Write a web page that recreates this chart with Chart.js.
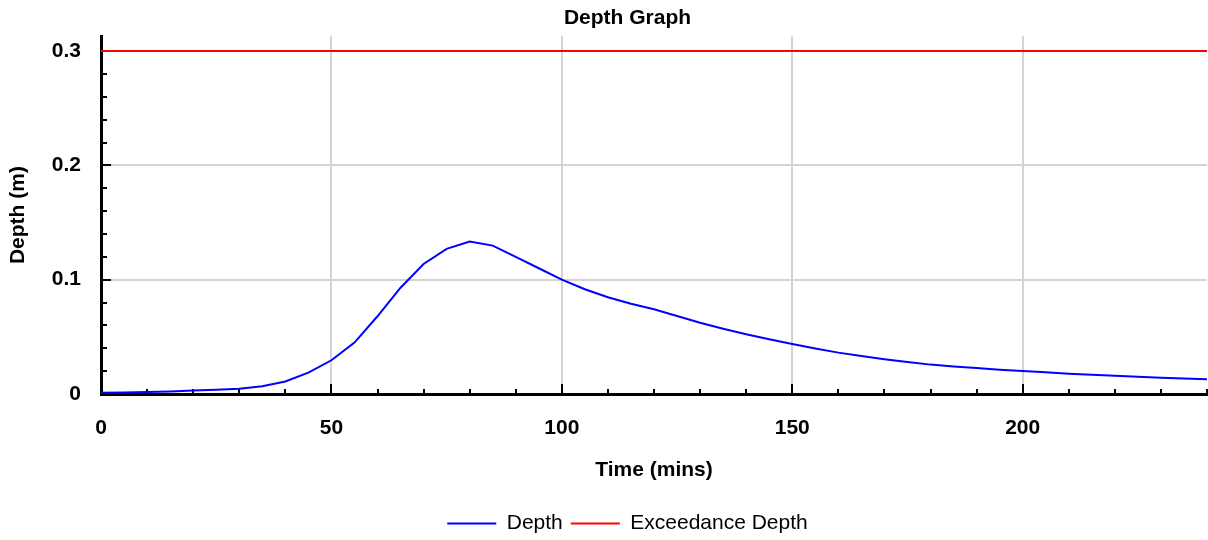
<!DOCTYPE html>
<html>
<head>
<meta charset="utf-8">
<title>Depth Graph</title>
<script src="https://cdn.jsdelivr.net/npm/chart.js@4.4.1/dist/chart.umd.min.js"></script>
<style>
  html, body { margin: 0; padding: 0; background: #fff; }
  #wrap { width: 1208px; height: 540px; position: relative; }
</style>
</head>
<body>
<div id="wrap"><canvas id="chart"></canvas></div>
<script>
// Time axis (minutes) and the modelled water depth (m) at each step
const times = [0, 5, 10, 15, 20, 25, 30, 35, 40, 45, 50, 55, 60, 65, 70, 75, 80, 85, 90, 95,
  100, 105, 110, 115, 120, 125, 130, 135, 140, 145, 150, 155, 160, 165, 170, 175, 180, 185, 190, 195,
  200, 205, 210, 215, 220, 225, 230, 235, 240];
const depth = [0.0010, 0.0013, 0.0017, 0.0022, 0.0030, 0.0038, 0.0046, 0.0067, 0.0110, 0.0187,
  0.0295, 0.0450, 0.0680, 0.0930, 0.1137, 0.1270, 0.1333, 0.1298, 0.1200, 0.1100,
  0.1000, 0.0916, 0.0846, 0.0790, 0.0741, 0.0682, 0.0624, 0.0571, 0.0522, 0.0479,
  0.0437, 0.0398, 0.0362, 0.0332, 0.0304, 0.0280, 0.0257, 0.0241, 0.0227, 0.0213,
  0.0201, 0.0190, 0.0178, 0.0169, 0.0160, 0.0151, 0.0143, 0.0135, 0.0128];

// Exceedance threshold, held constant over the whole run
const exceedanceTimes = [0, 240];
const exceedanceDepth = [0.3, 0.3];

// Labelled ticks and the spacing of the unlabelled minor ticks
const xTickValues = [0, 50, 100, 150, 200];
const yTickValues = [0, 0.1, 0.2, 0.3];
const xMinorStep = 10;
const yMinorStep = 0.02;
const xRange = [0, 240];
const yRange = [0, 0.313];

const FONT = '"Liberation Sans", Arial, Helvetica, sans-serif';
Chart.defaults.color = '#000';
Chart.defaults.font.family = FONT;

const toPoints = (xs, ys) => xs.map((t, i) => ({ x: t, y: ys[i] }));

// Inward-pointing major and minor tick marks on both axes
const axisTicks = {
  id: 'axisTicks',
  beforeDatasetsDraw(chart) {
    const { ctx, chartArea, scales: { x, y } } = chart;
    ctx.save();
    ctx.strokeStyle = '#000';
    ctx.lineWidth = 2;
    ctx.beginPath();
    const nx = Math.round((xRange[1] - xRange[0]) / xMinorStep);
    for (let i = 0; i <= nx; i++) {
      const v = xRange[0] + i * xMinorStep;
      const major = xTickValues.includes(v);
      const px = Math.round(x.getPixelForValue(v));
      ctx.moveTo(px, chartArea.bottom);
      ctx.lineTo(px, chartArea.bottom - (major ? 10 : 5));
    }
    const ny = Math.floor((yRange[1] - yRange[0]) / yMinorStep + 1e-9);
    for (let i = 0; i <= ny; i++) {
      const v = +(yRange[0] + i * yMinorStep).toFixed(4);
      const major = yTickValues.some(t => Math.abs(t - v) < 1e-9);
      const py = Math.round(y.getPixelForValue(v));
      ctx.moveTo(chartArea.left, py);
      ctx.lineTo(chartArea.left + (major ? 10 : 6), py);
    }
    ctx.stroke();
    ctx.restore();
  }
};

new Chart(document.getElementById('chart'), {
  type: 'line',
  data: {
    datasets: [
      {
        label: 'Depth',
        data: toPoints(times, depth),
        borderColor: '#0000ff',
        backgroundColor: '#0000ff',
        borderWidth: 2,
        pointRadius: 0,
        tension: 0,
        fill: false
      },
      {
        label: 'Exceedance Depth',
        data: toPoints(exceedanceTimes, exceedanceDepth),
        borderColor: '#ff0000',
        backgroundColor: '#ff0000',
        borderWidth: 2,
        pointRadius: 0,
        tension: 0,
        fill: false
      }
    ]
  },
  options: {
    responsive: true,
    maintainAspectRatio: false,
    animation: false,
    layout: { padding: { left: 48, right: 1, top: 0, bottom: -4 } },
    plugins: {
      title: {
        display: true,
        text: 'Depth Graph',
        color: '#000',
        font: { size: 21, weight: 'bold', family: FONT },
        padding: { top: 6, bottom: 5 }
      },
      legend: {
        position: 'bottom',
        labels: {
          usePointStyle: true,
          pointStyle: 'line',
          pointStyleWidth: 49,
          padding: 8,
          color: '#000',
          font: { size: 21, family: FONT }
        }
      },
      tooltip: { enabled: false }
    },
    scales: {
      x: {
        type: 'linear',
        min: xRange[0],
        max: xRange[1],
        afterBuildTicks: s => { s.ticks = xTickValues.map(v => ({ value: v })); },
        afterFit: s => { s.height = 111; },
        ticks: {
          padding: 22,
          maxRotation: 0,
          color: '#000',
          font: { size: 21, weight: 'bold', family: FONT },
          callback: v => String(v)
        },
        grid: {
          drawTicks: false,
          color: ctx => (ctx.tick && ctx.tick.value === 0 ? 'rgba(0,0,0,0)' : '#d3d3d3'),
          lineWidth: 2
        },
        border: { display: true, color: '#000', width: 3 },
        title: {
          display: true,
          text: 'Time (mins)',
          color: '#000',
          font: { size: 21, weight: 'bold', family: FONT },
          padding: { top: 0, bottom: 22 }
        }
      },
      y: {
        type: 'linear',
        min: yRange[0],
        max: yRange[1],
        afterBuildTicks: s => { s.ticks = yTickValues.map(v => ({ value: v })); },
        afterFit: s => { s.width = 53; },
        ticks: {
          padding: 20,
          color: '#000',
          font: { size: 21, weight: 'bold', family: FONT },
          callback: v => String(v)
        },
        grid: {
          drawTicks: false,
          color: ctx => (ctx.tick && ctx.tick.value === 0 ? 'rgba(0,0,0,0)' : '#d3d3d3'),
          lineWidth: 2
        },
        border: { display: true, color: '#000', width: 3 },
        title: {
          display: true,
          text: 'Depth (m)',
          color: '#000',
          font: { size: 21, weight: 'bold', family: FONT },
          padding: { top: -42, bottom: 0 }
        }
      }
    }
  },
  plugins: [axisTicks]
});
</script>
</body>
</html>
